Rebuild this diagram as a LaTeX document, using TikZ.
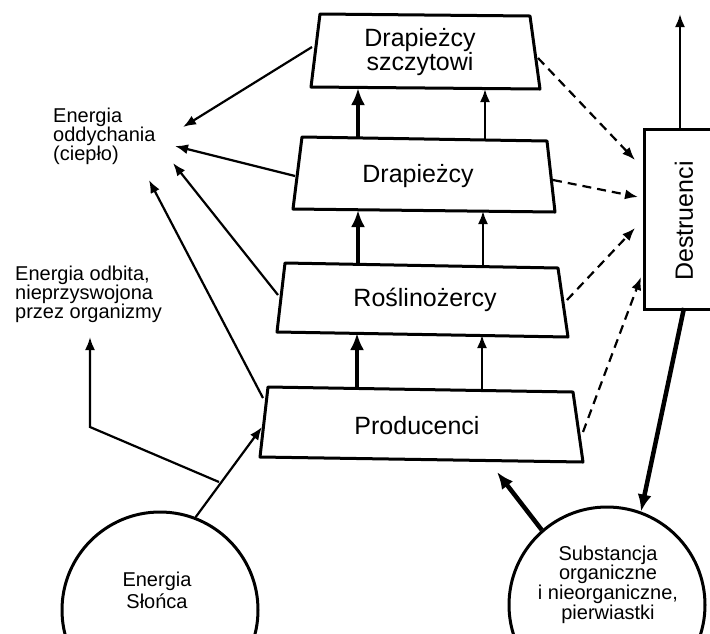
\documentclass[tikz,border=0pt]{standalone}
\usepackage{fontspec}
\setmainfont{Liberation Sans}
\usetikzlibrary{arrows.meta}
\begin{document}
\begin{tikzpicture}[x=1pt,y=-1pt,
  box/.style={draw, line width=3pt, line join=round},
  lbl/.style={font=\fontsize{25}{23}\selectfont, align=center, inner sep=0pt},
  small/.style={font=\fontsize{20}{19}\selectfont, align=left, inner sep=0pt},
  circ/.style={draw, circle, line width=3pt, minimum size=196pt, inner sep=0pt},
  thinarr/.style={line width=2.2pt, -{Latex[length=13pt,width=10pt]}},
  thickarr/.style={line width=4.5pt, -{Latex[length=17pt,width=14pt]}},
  dasharr/.style={line width=2.2pt, dash pattern=on 9pt off 6pt, -{Latex[length=13pt,width=10pt]}},
]
\useasboundingbox (0,0) rectangle (710,633);
\clip (0,0) rectangle (710,633);

% trapezoid boxes
\draw[box] (320,14) -- (530,16) -- (540,89) -- (311,87) -- cycle;
\draw[box] (302,137) -- (547,141) -- (555,212) -- (293,209) -- cycle;
\draw[box] (285,263) -- (558,268) -- (568,337) -- (277,332) -- cycle;
\draw[box] (268,387) -- (573,392) -- (583,462) -- (260,457) -- cycle;

\node[lbl] (ts) at (420,52) {Drapieżcy\\szczytowi};
\node[lbl] (dr) at (418,176) {Drapieżcy};
\node[lbl] (ro) at (425,300) {Roślinożercy};
\node[lbl] (pr) at (417,426) {Producenci};

% Destruenci (right edge lies outside the picture)
\node[draw, line width=3pt, minimum width=80pt, minimum height=180pt, anchor=north west, inner sep=0pt] (de) at (643,128) {};
\node[lbl, rotate=90] (det) at (684,221) {Destruenci};

% circles
\node[circ] (sun) at (160,610) {};
\node[font=\fontsize{20}{22}\selectfont, align=center, inner sep=0pt] (sunt) at (157,590) {Energia\\Słońca};
\node[circ] (sub) at (607,605) {};
\node[font=\fontsize{20}{17.3}\selectfont, align=center, inner sep=0pt, anchor=north] (subt) at (608,545.5) {Substancja\\organiczne\\i nieorganiczne,\\pierwiastki};

% side labels
\node[small, anchor=north west] (odd) at (53,108) {Energia\\oddychania\\(ciepło)};
\node[small, anchor=north west] (odb) at (15,266) {Energia odbita,\\nieprzyswojona\\przez organizmy};

% coordinates for connector ends
\coordinate (t-l) at (312,47);
\coordinate (d-l) at (295,176);
\coordinate (r-l) at (278,295);
\coordinate (p-l) at (263,398);
\coordinate (h1) at (183,127);
\coordinate (h2) at (175,146);
\coordinate (h3) at (173,163);
\coordinate (h4) at (149,180);

\draw[thinarr] (t-l) -- (h1);
\draw[thinarr] (d-l) -- (h2);
\draw[thinarr] (r-l) -- (h3);
\draw[thinarr] (p-l) -- (h4);

% upward flows between levels
\draw[thickarr] (357,388) -- (357,333);
\draw[thinarr] (482,390) -- (482,335);
\draw[thickarr] (358,264) -- (358,210);
\draw[thinarr] (483,266) -- (483,211);
\draw[thickarr] (358,138) -- (358,88);
\draw[thinarr] (485,140) -- (485,89);

% solar energy
\coordinate (p-in) at (262,427);
\draw[thinarr] (sun.69) -- (p-in);
\coordinate (refl) at (219,482);
\coordinate (bend) at (90,427);
\coordinate (up) at (90,337);
\draw[thinarr] (refl) -- (bend) -- (up);

% nutrients
\coordinate (p-bot) at (497,472);
\draw[thickarr] (sub.131) -- (p-bot);
\draw[thickarr] (684,308) -- (sub.70);
\draw[thinarr] (de.north -| 680,0) -- (680,14);

% dashed flows to Destruenci
\draw[dasharr] (538,58) -- (635,160);
\draw[dasharr] (553,180) -- (638,197);
\draw[dasharr] (567,300) -- (635,228);
\draw[dasharr] (583,432) -- (641,277);
\end{tikzpicture}
\end{document}
